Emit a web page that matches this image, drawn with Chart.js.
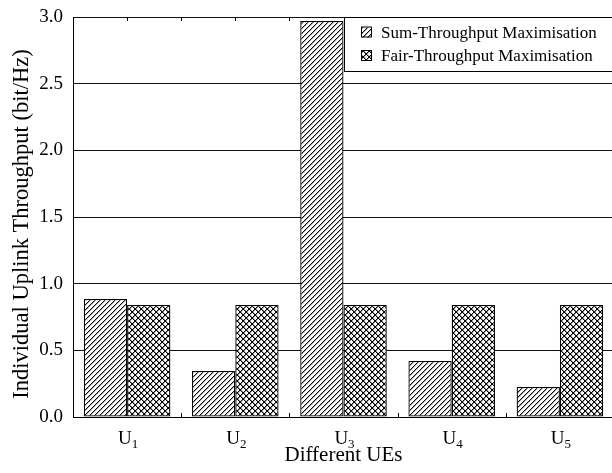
<!DOCTYPE html>
<html>
<head>
<meta charset="utf-8">
<script src="https://cdn.jsdelivr.net/npm/chart.js@4"></script>
<style>
  html, body { margin: 0; padding: 0; background: #fff; overflow: hidden; }
  #wrap { position: relative; width: 616px; height: 473px; }
</style>
</head>
<body>
<div id="wrap"><canvas id="chart"></canvas></div>
<script>
// values
const categories = ['U1', 'U2', 'U3', 'U4', 'U5'];
const sumThroughput = [0.885, 0.345, 2.97, 0.42, 0.225];
const fairThroughput = [0.84, 0.84, 0.84, 0.84, 0.84];
const seriesNames = ['Sum-Throughput Maximisation', 'Fair-Throughput Maximisation'];
const yTitle = 'Individual Uplink Throughput (bit/Hz)';
const yMin = 0, yMax = 3.0, yStep = 0.5;

const FONT = "'Liberation Serif', 'Times New Roman', serif";

// pixel hatch tiles: "/" for sum, "x" cross for fair
function makePattern(kind) {
    const size = kind === 'diag' ? 5 : 6;
    const c = document.createElement('canvas');
    c.width = size; c.height = size;
    const g = c.getContext('2d');
    const img = g.createImageData(size, size);
    for (let y = 0; y < size; y++) {
        for (let x = 0; x < size; x++) {
            let v = 255;
            const a = (x + y) % size, b = (x - y + size) % size;
            if (kind === 'diag') {
                if (a === size - 1) v = 0;
                else if (a === 0) v = 170;
            } else {
                if (a === size - 1 || b === 0) v = 0;
                else if (a === 0 || b === 1) v = 150;
            }
            const k = (y * size + x) * 4;
            img.data[k] = img.data[k + 1] = img.data[k + 2] = v;
            img.data[k + 3] = 255;
        }
    }
    g.putImageData(img, 0, 0);
    return g.createPattern(c, 'repeat');
}

const diagFill = makePattern('diag');
const crossFill = makePattern('cross');

// U with a subscript index under each group, plus the y axis title
const textPlugin = {
    id: 'textPlugin',
    afterDraw(chart) {
        const ctx = chart.ctx;
        const xs = chart.scales.x;
        ctx.save();
        ctx.fillStyle = '#000';
        ctx.textBaseline = 'alphabetic';
        ctx.textAlign = 'left';
        chart.data.labels.forEach((lab, i) => {
            const base = lab.slice(0, 1), sub = lab.slice(1);
            ctx.font = '19px ' + FONT;
            const wb = ctx.measureText(base).width;
            ctx.font = '13px ' + FONT;
            const ws = ctx.measureText(sub).width;
            const x0 = xs.getPixelForTick(i) - (wb + ws) / 2 + 1;
            ctx.font = '19px ' + FONT;
            ctx.fillText(base, x0, 444);
            ctx.font = '13px ' + FONT;
            ctx.fillText(sub, x0 + wb, 448);
        });

        ctx.translate(22, 224);
        ctx.rotate(-Math.PI / 2);
        ctx.font = '22.5px ' + FONT;
        ctx.textAlign = 'center';
        ctx.textBaseline = 'middle';
        ctx.fillText(yTitle, 0, 0);
        ctx.restore();
    }
};

// axis frame tick marks + boxed legend
const framePlugin = {
    id: 'frame',
    afterDraw(chart) {
        const ctx = chart.ctx;
        const area = chart.chartArea;
        const xs = chart.scales.x;
        ctx.save();
        ctx.strokeStyle = '#000';
        ctx.lineWidth = 1;
        ctx.beginPath();
        const n = categories.length;
        for (let i = 0; i <= n; i++) {
            const xb = Math.round(xs.left + (xs.right - xs.left) * i / n) + 0.5;
            ctx.moveTo(xb, area.top); ctx.lineTo(xb, area.top + 4);
            ctx.moveTo(xb, area.bottom); ctx.lineTo(xb, area.bottom - 4);
        }
        for (let i = 0; i < n; i++) {
            const xc = Math.round(xs.getPixelForTick(i)) + 0.5;
            ctx.moveTo(xc, area.top); ctx.lineTo(xc, area.top + 4);
        }
        ctx.stroke();

        // legend
        const lx = 344.5, ly = Math.round(area.top) + 0.5;
        const lw = area.right - lx + 10, lh = 54;
        ctx.fillStyle = '#fff';
        ctx.fillRect(lx, ly, lw, lh);
        ctx.strokeRect(lx, ly, lw, lh);
        ctx.font = '17px ' + FONT;
        ctx.textBaseline = 'middle';
        chart.data.datasets.forEach((ds, i) => {
            const cy = ly + 15 + i * 23.5;
            ctx.fillStyle = ds.backgroundColor;
            ctx.fillRect(361, cy - 5, 10, 10);
            ctx.strokeRect(361.5, cy - 5.5, 10, 10);
            ctx.fillStyle = '#000';
            ctx.fillText(ds.label, 381, cy + 1);
        });
        ctx.restore();
    }
};

new Chart(document.getElementById('chart'), {
    type: 'bar',
    data: {
        labels: categories,
        datasets: [
            {
                label: seriesNames[0],
                data: sumThroughput,
                backgroundColor: diagFill,
                borderColor: '#000',
                borderWidth: 1.3,
                borderSkipped: false,
                categoryPercentage: 0.8,
                barPercentage: 1.0
            },
            {
                label: seriesNames[1],
                data: fairThroughput,
                backgroundColor: crossFill,
                borderColor: '#000',
                borderWidth: 1.3,
                borderSkipped: false,
                categoryPercentage: 0.8,
                barPercentage: 1.0
            }
        ]
    },
    options: {
        responsive: true,
        maintainAspectRatio: false,
        animation: false,
        layout: { padding: { top: 17, right: 2, left: 0, bottom: 0 } },
        plugins: {
            legend: { display: false },
            tooltip: { enabled: false }
        },
        scales: {
            x: {
                grid: { display: false },
                border: { color: '#000', width: 1 },
                ticks: { display: false },
                title: {
                    display: true,
                    text: 'Different UEs',
                    color: '#000',
                    font: { family: FONT, size: 21 },
                    padding: { top: 0, bottom: 5 }
                },
                afterFit(scale) { scale.height = 56; }
            },
            y: {
                min: yMin,
                max: yMax,
                ticks: {
                    stepSize: yStep,
                    color: '#000',
                    font: { family: FONT, size: 19 },
                    padding: 10,
                    callback: v => v.toFixed(1)
                },
                grid: { color: '#111', lineWidth: 1, drawTicks: false },
                border: { color: '#000', width: 1 },
                afterFit(scale) {
                    scale.width = 73;
                    scale.paddingTop = 0;
                    scale.paddingBottom = 0;
                }
            }
        }
    },
    plugins: [textPlugin, framePlugin]
});
</script>
</body>
</html>
